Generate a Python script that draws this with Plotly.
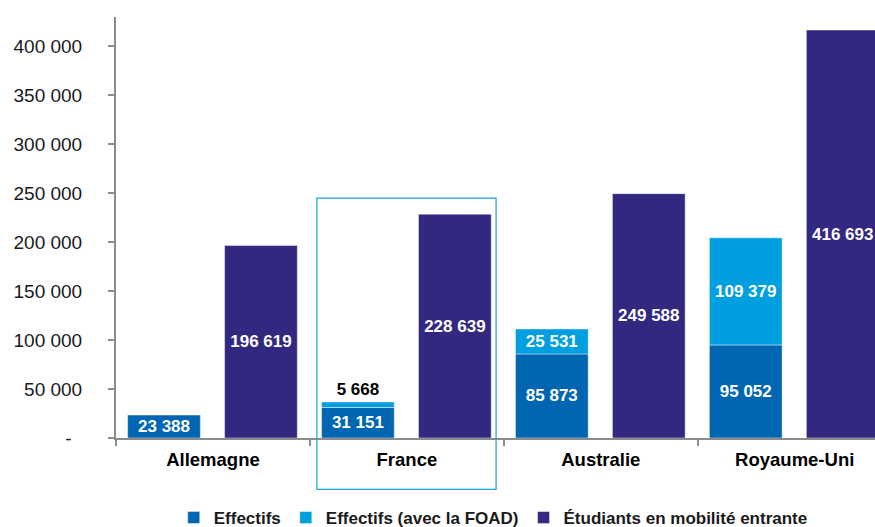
import plotly.graph_objects as go

countries = ["Allemagne", "France", "Australie", "Royaume-Uni"]
effectifs = [23388, 31151, 85873, 95052]
effectifs_foad = [None, 5668, 25531, 109379]
mobilite = [196619, 228639, 249588, 416693]
y_ticks = [0, 50000, 100000, 150000, 200000, 250000, 300000, 350000, 400000]

series_names = ["Effectifs", "Effectifs (avec la FOAD)", "Étudiants en mobilité entrante"]
colors = ["#0066b2", "#009fe0", "#32287f"]


def fmt(v):
    if v is None:
        return ""
    return f"{v:,}".replace(",", " ")


tick_text = ["-\u00a0\u00a0" if v == 0 else fmt(v) for v in y_ticks]

bar_w = 0.375
off_left = -0.44
off_right = 0.06
line_style = dict(width=0.8, color="rgba(255,255,255,0.55)")
lab_font = dict(family="Liberation Sans, Arial, sans-serif", size=17, color="white")

fig = go.Figure()
fig.add_trace(go.Bar(
    name=series_names[0], x=countries, y=effectifs,
    offset=off_left, width=bar_w,
    marker=dict(color=colors[0], line=line_style),
    text=[fmt(v) for v in effectifs], textposition="inside",
    insidetextanchor="middle", constraintext="none",
    textfont=dict(lab_font, weight="bold"),
))
fig.add_trace(go.Bar(
    name=series_names[1], x=countries, y=effectifs_foad, base=effectifs,
    offset=off_left, width=bar_w,
    marker=dict(color=colors[1], line=line_style),
    text=[fmt(v) for v in effectifs_foad],
    textposition=["inside", "outside", "inside", "inside"],
    insidetextanchor="middle", constraintext="none",
    insidetextfont=dict(lab_font, weight="bold"),
    outsidetextfont=dict(lab_font, color="black", weight="bold"),
))
fig.add_trace(go.Bar(
    name=series_names[2], x=countries, y=mobilite,
    offset=off_right, width=bar_w,
    marker=dict(color=colors[2], line=line_style),
    text=[fmt(v) for v in mobilite], textposition="inside",
    insidetextanchor="middle", constraintext="none",
    textfont=dict(lab_font, weight="bold"),
))

# highlight box around France
fig.add_shape(type="rect", xref="x", yref="paper",
              x0=0.536, x1=1.46, y0=-0.122, y1=0.570,
              line=dict(color="#1a9ee0", width=1.2), fillcolor="rgba(0,0,0,0)",
              layer="above")

fig.update_layout(
    width=875, height=527,
    margin=dict(l=116, r=0, t=17, b=89, autoexpand=False),
    paper_bgcolor="white", plot_bgcolor="white",
    barmode="overlay",
    font=dict(family="Liberation Sans, Arial, sans-serif", color="#1a1a1a"),
    showlegend=True,
    legend=dict(orientation="h", x=0.497, xanchor="center", y=-0.19, yanchor="middle",
                font=dict(size=17, color="#1a1a1a", weight="bold"),
                itemwidth=30, bgcolor="rgba(0,0,0,0)"),
)
fig.update_xaxes(
    type="category", range=[-0.5, 3.414], automargin=False,
    showline=True, linecolor="#8c8c8c", linewidth=2,
    ticks="outside", tickson="boundaries", ticklen=6, tickcolor="#8c8c8c", tickwidth=1.5,
    ticklabelstandoff=4,
    tickfont=dict(size=18.5, color="black", weight="bold"),
    showgrid=False, zeroline=False,
)
fig.update_yaxes(
    range=[0, 430000], automargin=False,
    tickvals=y_ticks, ticktext=tick_text,
    showline=True, linecolor="#8c8c8c", linewidth=2,
    ticks="outside", ticklen=6, tickcolor="#8c8c8c", tickwidth=1.5,
    ticklabelstandoff=22,
    tickfont=dict(size=19, color="#1a1a1a"),
    showgrid=False, zeroline=False,
)

fig.write_html(
    "out.html",
    config={"displayModeBar": False},
    post_script="document.body.style.margin='0';document.body.style.overflow='hidden';",
)
